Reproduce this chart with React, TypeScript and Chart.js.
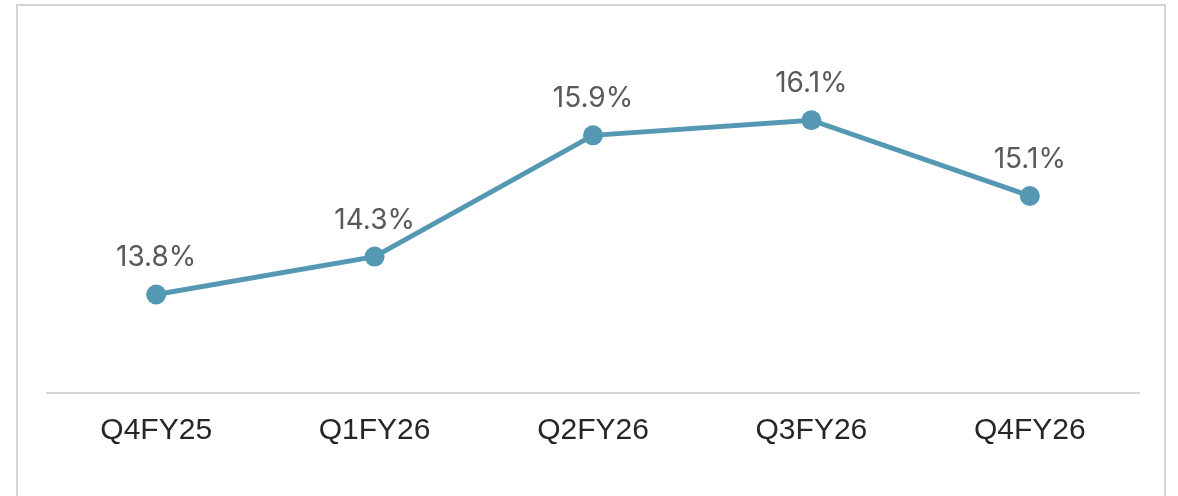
import React, { useEffect, useRef } from "react";
import { Chart, registerables } from "chart.js";

Chart.register(...registerables);

const categories = ["Q4FY25", "Q1FY26", "Q2FY26", "Q3FY26", "Q4FY26"];
const marginValues = [13.8, 14.3, 15.9, 16.1, 15.1];
const valueLabels = ["13.8%", "14.3%", "15.9%", "16.1%", "15.1%"];

const LINE_COLOR = "#5598b4";

const labelPlugin = {
  id: "valueLabels",
  afterDatasetsDraw(chart: any) {
    const ctx = chart.ctx;
    const meta = chart.getDatasetMeta(0);
    ctx.save();
    ctx.font = "28px 'Inter', 'Liberation Sans', sans-serif";
    ctx.fillStyle = "#595959";
    ctx.textAlign = "center";
    ctx.textBaseline = "alphabetic";
    meta.data.forEach((pt: any, i: number) => {
      ctx.fillText(valueLabels[i], pt.x, pt.y - 28);
    });
    ctx.restore();
  },
};

export default function App() {
  const ref = useRef<HTMLCanvasElement | null>(null);
  useEffect(() => {
    if (!ref.current) return;
    const chart = new Chart(ref.current, {
      type: "line",
      data: {
        labels: categories,
        datasets: [
          {
            data: marginValues,
            borderColor: LINE_COLOR,
            backgroundColor: LINE_COLOR,
            borderWidth: 5,
            pointRadius: 10,
            pointBorderWidth: 0,
            pointBackgroundColor: LINE_COLOR,
            tension: 0,
            fill: false,
          },
        ],
      },
      options: {
        animation: false,
        responsive: true,
        maintainAspectRatio: false,
        layout: { padding: { left: 47, right: 39, top: 52, bottom: 35 } },
        plugins: {
          legend: { display: false },
          tooltip: { enabled: false },
        },
        scales: {
          x: {
            offset: true,
            grid: { display: false },
            border: { display: true, color: "#d4d4d4", width: 2 },
            ticks: {
              color: "#262626",
              padding: 12,
              font: { size: 30, family: "'Liberation Sans', Arial, sans-serif" },
            },
          },
          y: {
            display: false,
            min: 12.5,
            max: 17,
          },
        },
      },
      plugins: [labelPlugin],
    });
    return () => chart.destroy();
  }, []);

  return (
    <div style={{ position: "fixed", left: 0, top: 0, width: 1178, height: 496, background: "#fff" }}>
      <div
        style={{
          position: "absolute",
          left: 16,
          top: 4,
          width: 1150,
          height: 520,
          border: "2px solid #d4d4d4",
          boxSizing: "border-box",
        }}
      />
      <div style={{ position: "absolute", left: 0, top: 0, width: 1178, height: 496 }}>
        <canvas ref={ref} />
      </div>
    </div>
  );
}
